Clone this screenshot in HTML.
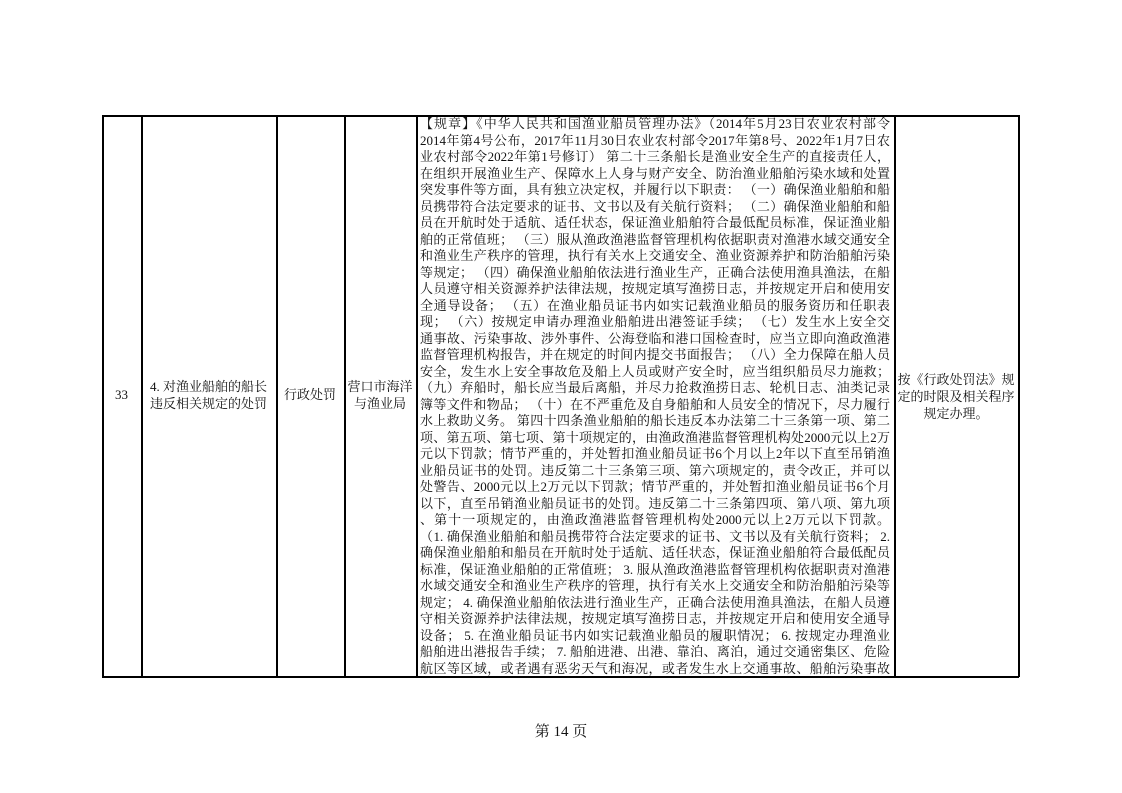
<!DOCTYPE html>
<html><head><meta charset="utf-8"><style>
body{margin:0;width:1122px;height:793px;background:#fff;position:relative;font-family:"Liberation Serif","Noto Serif CJK SC","Noto Sans CJK SC",serif;color:#111;overflow:hidden}
.v{position:absolute;top:115px;height:562px;width:1.5px;background:#000}
.h{position:absolute;left:102px;width:917px;height:1.5px;background:#000}
.c{position:absolute;font-size:13px;line-height:17px;text-align:center;white-space:nowrap}
#t{position:absolute;left:420px;top:116px;width:470px;font-size:13px;line-height:16.5px}
#t div{white-space:nowrap;text-align:justify;text-align-last:justify;overflow:hidden;height:16.5px}
</style></head><body>
<div class="h" style="top:115px"></div>
<div class="h" style="top:676px"></div>
<div class="v" style="left:102px"></div>
<div class="v" style="left:141px"></div>
<div class="v" style="left:276px"></div>
<div class="v" style="left:344px"></div>
<div class="v" style="left:416px"></div>
<div class="v" style="left:894px"></div>
<div class="v" style="left:1018px"></div>
<div class="c" style="left:102px;width:39px;top:386px">33</div>
<div class="c" style="left:141px;width:135px;top:378px">4. 对渔业船舶的船长<br>违反相关规定的处罚</div>
<div class="c" style="left:276px;width:68px;top:386px">行政处罚</div>
<div class="c" style="left:344px;width:72px;top:378px">营口市海洋<br>与渔业局</div>
<div class="c" style="left:894px;width:124px;top:371px">按《行政处罚法》规<br>定的时限及相关程序<br>规定办理。</div>
<div id="t">
<div>【规章】《中华人民共和国渔业船员管理办法》（2014年5月23日农业农村部令</div>
<div>2014年第4号公布，2017年11月30日农业农村部令2017年第8号、2022年1月7日农</div>
<div>业农村部令2022年第1号修订） 第二十三条船长是渔业安全生产的直接责任人，</div>
<div>在组织开展渔业生产、保障水上人身与财产安全、防治渔业船舶污染水域和处置</div>
<div>突发事件等方面，具有独立决定权，并履行以下职责： （一）确保渔业船舶和船</div>
<div>员携带符合法定要求的证书、文书以及有关航行资料； （二）确保渔业船舶和船</div>
<div>员在开航时处于适航、适任状态，保证渔业船舶符合最低配员标准，保证渔业船</div>
<div>舶的正常值班； （三）服从渔政渔港监督管理机构依据职责对渔港水域交通安全</div>
<div>和渔业生产秩序的管理，执行有关水上交通安全、渔业资源养护和防治船舶污染</div>
<div>等规定； （四）确保渔业船舶依法进行渔业生产，正确合法使用渔具渔法，在船</div>
<div>人员遵守相关资源养护法律法规，按规定填写渔捞日志，并按规定开启和使用安</div>
<div>全通导设备； （五）在渔业船员证书内如实记载渔业船员的服务资历和任职表</div>
<div>现； （六）按规定申请办理渔业船舶进出港签证手续； （七）发生水上安全交</div>
<div>通事故、污染事故、涉外事件、公海登临和港口国检查时，应当立即向渔政渔港</div>
<div>监督管理机构报告，并在规定的时间内提交书面报告； （八）全力保障在船人员</div>
<div>安全，发生水上安全事故危及船上人员或财产安全时，应当组织船员尽力施救；</div>
<div>（九）弃船时，船长应当最后离船，并尽力抢救渔捞日志、轮机日志、油类记录</div>
<div>簿等文件和物品； （十）在不严重危及自身船舶和人员安全的情况下，尽力履行</div>
<div>水上救助义务。 第四十四条渔业船舶的船长违反本办法第二十三条第一项、第二</div>
<div>项、第五项、第七项、第十项规定的，由渔政渔港监督管理机构处2000元以上2万</div>
<div>元以下罚款；情节严重的，并处暂扣渔业船员证书6个月以上2年以下直至吊销渔</div>
<div>业船员证书的处罚。违反第二十三条第三项、第六项规定的，责令改正，并可以</div>
<div>处警告、2000元以上2万元以下罚款；情节严重的，并处暂扣渔业船员证书6个月</div>
<div>以下，直至吊销渔业船员证书的处罚。违反第二十三条第四项、第八项、第九项</div>
<div>、第十一项规定的，由渔政渔港监督管理机构处2000元以上2万元以下罚款。</div>
<div>（1. 确保渔业船舶和船员携带符合法定要求的证书、文书以及有关航行资料； 2.</div>
<div>确保渔业船舶和船员在开航时处于适航、适任状态，保证渔业船舶符合最低配员</div>
<div>标准，保证渔业船舶的正常值班； 3. 服从渔政渔港监督管理机构依据职责对渔港</div>
<div>水域交通安全和渔业生产秩序的管理，执行有关水上交通安全和防治船舶污染等</div>
<div>规定； 4. 确保渔业船舶依法进行渔业生产，正确合法使用渔具渔法，在船人员遵</div>
<div>守相关资源养护法律法规，按规定填写渔捞日志，并按规定开启和使用安全通导</div>
<div>设备； 5. 在渔业船员证书内如实记载渔业船员的履职情况； 6. 按规定办理渔业</div>
<div>船舶进出港报告手续； 7. 船舶进港、出港、靠泊、离泊，通过交通密集区、危险</div>
<div>航区等区域，或者遇有恶劣天气和海况，或者发生水上交通事故、船舶污染事故</div>
</div>
<div class="c" style="left:0;width:1122px;top:724px;font-size:15px">第 14 页</div>
</body></html>
